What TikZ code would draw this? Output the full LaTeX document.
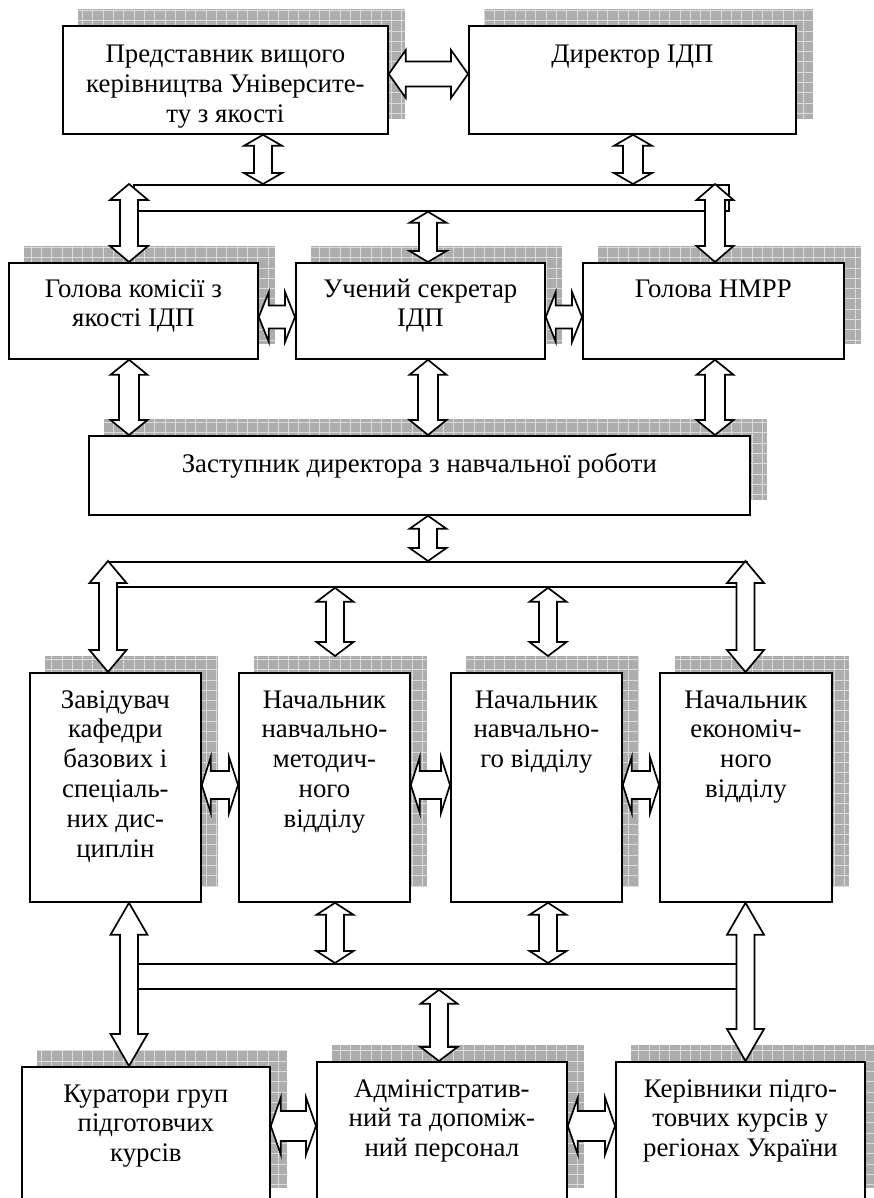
\documentclass[tikz,border=0pt]{standalone}
\usepackage{fontspec}
\setmainfont{Liberation Serif}
\usetikzlibrary{calc}
\pgfdeclarelayer{background}
\pgfsetlayers{background,main}

\tikzset{
  box/.style={draw, line width=1.8pt, fill=white, rectangle, inner sep=0pt, anchor=north west},
  bus/.style={draw, line width=1.8pt, fill=white, rectangle, inner sep=0pt, anchor=north west},
  blk/.style={draw, line width=1.7pt, fill=white, line join=miter},
  txt/.style={anchor=base, inner sep=0pt, font=\fontsize{26.8}{29.8}\selectfont},
  shadowfill/.style={fill=black!32},
  shadowgrid/.style={draw=black!14, line width=0.6pt},
}

% lines of a box caption, aligned on the first baseline
\newcommand\boxlines[1]{\begin{tabular}[t]{@{}c@{}}#1\end{tabular}}

% hatched shadow behind a box, shifted right and up
\newcommand\boxshadow[1]{%
  \begin{pgfonlayer}{background}
    \begin{scope}
      \clip ([shift={(16,-16)}]#1.south west) rectangle ([shift={(16,-16)}]#1.north east);
      \fill[shadowfill] ([shift={(16,-16)}]#1.south west) rectangle ([shift={(16,-16)}]#1.north east);
      \draw[shadowgrid, step=10.3pt] ([shift={(16,-16)}]#1.south west) grid ([shift={(16,-16)}]#1.north east);
    \end{scope}
  \end{pgfonlayer}}

% vertical double block arrow: top tip, bottom tip, head half width, shaft half width, head length
\newcommand\varr[5]{%
  \draw[blk] let \p1=#1, \p2=#2 in
    (\x1,\y1) -- ({\x1+#3pt},{\y1-#5pt}) -- ({\x1+#4pt},{\y1-#5pt}) --
    ({\x1+#4pt},{\y2+#5pt}) -- ({\x1+#3pt},{\y2+#5pt}) -- (\x1,\y2) --
    ({\x1-#3pt},{\y2+#5pt}) -- ({\x1-#4pt},{\y2+#5pt}) --
    ({\x1-#4pt},{\y1-#5pt}) -- ({\x1-#3pt},{\y1-#5pt}) -- cycle;}

% horizontal double block arrow: left tip, right tip, head half height, shaft half height, head length
\newcommand\harr[5]{%
  \draw[blk] let \p1=#1, \p2=#2 in
    (\x1,\y1) -- ({\x1+#5pt},{\y1+#3pt}) -- ({\x1+#5pt},{\y1+#4pt}) --
    ({\x2-#5pt},{\y1+#4pt}) -- ({\x2-#5pt},{\y1+#3pt}) -- (\x2,\y1) --
    ({\x2-#5pt},{\y1-#3pt}) -- ({\x2-#5pt},{\y1-#4pt}) --
    ({\x1+#5pt},{\y1-#4pt}) -- ({\x1+#5pt},{\y1-#3pt}) -- cycle;}

\begin{document}
\begin{tikzpicture}[x=1pt,y=-1pt]
  \useasboundingbox (0,0) rectangle (873,1198);

  % columns of the vertical arrows and rows of the horizontal ones
  \coordinate (k1) at (263,0);
  \coordinate (k2) at (633,0);
  \coordinate (k3) at (129,0);
  \coordinate (k4) at (428,0);
  \coordinate (k5) at (715,0);
  \coordinate (k6) at (108,0);
  \coordinate (k7) at (335,0);
  \coordinate (k8) at (548,0);
  \coordinate (k9) at (745.5,0);
  \coordinate (k10) at (439,0);
  \coordinate (r1) at (0,74);
  \coordinate (r2) at (0,317);
  \coordinate (r3) at (0,785);
  \coordinate (r4) at (0,1126);

  % boxes
  \node[box, minimum width=325, minimum height=108] (b1) at (62,25) {};
  \node[box, minimum width=327, minimum height=108] (b2) at (468,25) {};
  \node[box, minimum width=249, minimum height=96] (b3) at (8,262) {};
  \node[box, minimum width=249, minimum height=96] (b4) at (295,262) {};
  \node[box, minimum width=261, minimum height=96] (b5) at (582,262) {};
  \node[box, minimum width=661, minimum height=79] (b6) at (88,435) {};
  \node[box, minimum width=171, minimum height=229] (b7) at (29,672) {};
  \node[box, minimum width=171, minimum height=229] (b8) at (238,672) {};
  \node[box, minimum width=171, minimum height=229] (b9) at (450,672) {};
  \node[box, minimum width=172, minimum height=229] (b10) at (659,672) {};
  \node[box, minimum width=248, minimum height=136] (b11) at (21,1066) {};
  \node[box, minimum width=250, minimum height=141] (b12) at (316,1061) {};
  \node[box, minimum width=249, minimum height=141] (b13) at (615,1061) {};

  \foreach \b in {b1,b2,b3,b4,b5,b6,b7,b8,b9,b10,b11,b12,b13} {\boxshadow{\b}}

  % captions
  \node[txt] at ($(b1.north)+(0,38)$) {\boxlines{Представник вищого\\керівництва Університе-\\ту з якості}};
  \node[txt] at ($(b2.north)+(0,38)$) {\boxlines{Директор ІДП}};
  \node[txt] at ($(b3.north)+(0,35)$) {\boxlines{Голова комісії з\\якості ІДП}};
  \node[txt] at ($(b4.north)+(0,35)$) {\boxlines{Учений секретар\\ІДП}};
  \node[txt] at ($(b5.north)+(0,35)$) {\boxlines{Голова НМРР}};
  \node[txt] at ($(b6.north)+(0,37)$) {\boxlines{Заступник директора з навчальної роботи}};
  \node[txt] at ($(b7.north)+(0,36)$) {\boxlines{Завідувач\\кафедри\\базових і\\спеціаль-\\них дис-\\циплін}};
  \node[txt] at ($(b8.north)+(0,36)$) {\boxlines{Начальник\\навчально-\\методич-\\ного\\відділу}};
  \node[txt] at ($(b9.north)+(0,36)$) {\boxlines{Начальник\\навчально-\\го відділу}};
  \node[txt] at ($(b10.north)+(0,36)$) {\boxlines{Начальник\\економіч-\\ного\\відділу}};
  \node[txt] at ($(b11.north)+(0,36)$) {\boxlines{Куратори груп\\підготовчих\\курсів}};
  \node[txt] at ($(b12.north)+(0,36)$) {\boxlines{Адміністратив-\\ний та допоміж-\\ний персонал}};
  \node[txt] at ($(b13.north)+(0,36)$) {\boxlines{Керівники підго-\\товчих курсів у\\регіонах України}};

  % distribution bars
  \node[bus, minimum width=595, minimum height=26] (bus1) at (133,184) {};
  \node[bus, minimum width=638, minimum height=25] (bus2) at (108,561) {};
  \node[bus, minimum width=616, minimum height=25] (bus3) at (129,963) {};

  % links between boxes in a row
  \harr{(b1.east |- r1)}{(b2.west |- r1)}{24}{12.5}{17}
  \harr{(b3.east |- r2)}{(b4.west |- r2)}{25}{11.5}{10}
  \harr{(b4.east |- r2)}{(b5.west |- r2)}{25}{11.5}{10}
  \harr{(b7.east |- r3)}{(b8.west |- r3)}{28}{14}{9}
  \harr{(b8.east |- r3)}{(b9.west |- r3)}{28}{14}{9}
  \harr{(b9.east |- r3)}{(b10.west |- r3)}{28}{14}{9}
  \harr{(b11.east |- r4)}{(b12.west |- r4)}{28.5}{15}{10}
  \harr{(b12.east |- r4)}{(b13.west |- r4)}{28.5}{15}{10}

  % links through the bars
  \varr{(b1.south -| k1)}{(bus1.north -| k1)}{19}{9}{11}
  \varr{(b2.south -| k2)}{(bus1.north -| k2)}{19}{10}{11}
  \varr{(bus1.north -| k3)}{(b3.north -| k3)}{19}{9}{16}
  \varr{(bus1.south -| k4)}{(b4.north -| k4)}{18.5}{9}{11}
  \varr{(bus1.north -| k5)}{(b5.north -| k5)}{18.5}{10}{16}
  \varr{(b3.south -| k3)}{(b6.north -| k3)}{18.5}{10}{15}
  \varr{(b4.south -| k4)}{(b6.north -| k4)}{18.5}{10}{15}
  \varr{(b5.south -| k5)}{(b6.north -| k5)}{18.5}{10}{15}
  \varr{(b6.south -| k4)}{(bus2.north -| k4)}{18.5}{9}{13}
  \varr{(bus2.north -| k6)}{(b7.north -| k6)}{18.5}{9}{22}
  \varr{(bus2.south -| k7)}{([yshift=16pt]b8.north -| k7)}{18.5}{9}{14}
  \varr{(bus2.south -| k8)}{([yshift=16pt]b9.north -| k8)}{18.5}{9}{14}
  \varr{(bus2.north -| k9)}{(b10.north -| k9)}{18.5}{9}{22}
  \varr{(b8.south -| k7)}{(bus3.north -| k7)}{18.5}{9}{12}
  \varr{(b9.south -| k8)}{(bus3.north -| k8)}{18.5}{9}{12}
  \varr{(b7.south -| k3)}{(b11.north -| k3)}{18.5}{9}{32}
  \varr{(b10.south -| k9)}{(b13.north -| k9)}{18.5}{9}{32}
  \varr{(bus3.south -| k10)}{(b12.north -| k10)}{18.5}{9}{14}
\end{tikzpicture}
\end{document}
